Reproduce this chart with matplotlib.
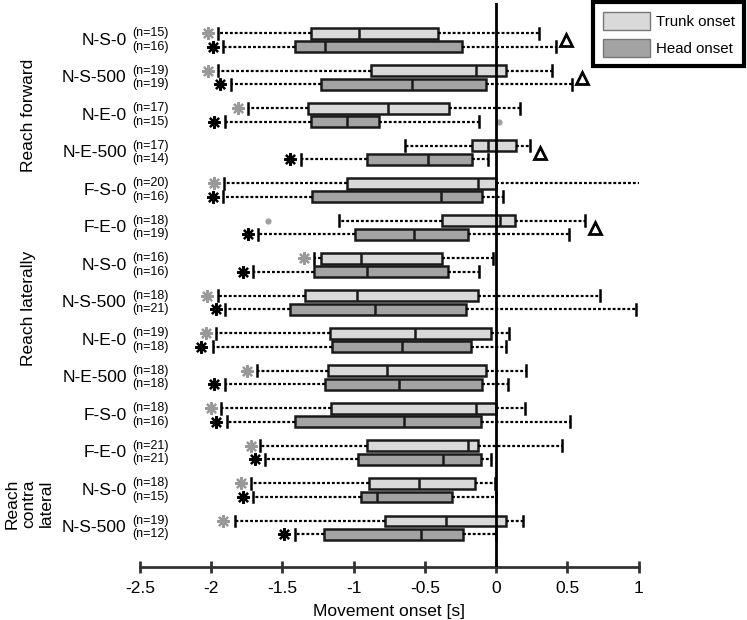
import numpy as np
import matplotlib
matplotlib.use("Agg")
import matplotlib.pyplot as plt
from matplotlib.patches import Patch
from matplotlib.transforms import blended_transform_factory

plt.rcParams['font.family'] = ['Liberation Sans', 'DejaVu Sans']

# conditions, top to bottom
conds = ['N-S-0', 'N-S-500', 'N-E-0', 'N-E-500', 'F-S-0', 'F-E-0',
         'N-S-0', 'N-S-500', 'N-E-0', 'N-E-500', 'F-S-0', 'F-E-0',
         'N-S-0', 'N-S-500']
n_trunk = [15, 19, 17, 17, 20, 18, 16, 18, 19, 18, 18, 21, 18, 19]
n_head = [16, 19, 15, 14, 16, 19, 16, 21, 18, 18, 16, 21, 15, 12]

# trunk onset: whisker low, q1, median, q3, whisker high
trunk_lo = [-1.95, -1.95, -1.74, -0.64, -1.91, -1.10, -1.28, -1.95, -1.97, -1.68, -1.93, -1.66, -1.72, -1.83]
trunk_q1 = [-1.30, -0.88, -1.32, -0.17, -1.05, -0.38, -1.23, -1.34, -1.17, -1.18, -1.16, -0.91, -0.89, -0.78]
trunk_med = [-0.96, -0.14, -0.76, -0.06, -0.13, 0.03, -0.95, -0.98, -0.57, -0.77, -0.14, -0.20, -0.54, -0.35]
trunk_q3 = [-0.41, 0.07, -0.33, 0.14, 0.00, 0.13, -0.38, -0.13, -0.04, -0.07, 0.00, -0.13, -0.15, 0.07]
trunk_hi = [0.30, 0.39, 0.17, 0.24, 1.03, 0.62, -0.02, 0.73, 0.09, 0.21, 0.20, 0.46, -0.01, 0.19]

# head onset
head_lo = [-1.92, -1.86, -1.90, -1.37, -1.92, -1.67, -1.71, -1.90, -1.99, -1.90, -1.89, -1.62, -1.71, -1.41]
head_q1 = [-1.41, -1.23, -1.30, -0.91, -1.29, -0.99, -1.28, -1.45, -1.15, -1.20, -1.41, -0.97, -0.95, -1.21]
head_med = [-1.20, -0.59, -1.05, -0.48, -0.39, -0.58, -0.91, -0.85, -0.66, -0.68, -0.65, -0.37, -0.84, -0.53]
head_q3 = [-0.24, -0.07, -0.82, -0.17, -0.10, -0.20, -0.34, -0.21, -0.18, -0.10, -0.11, -0.11, -0.31, -0.23]
head_hi = [0.42, 0.53, -0.12, -0.06, 0.05, 0.51, -0.12, 0.98, 0.07, 0.08, 0.52, -0.04, 0.00, 0.00]

# significance markers
trunk_star = [-2.02, -2.02, -1.81, np.nan, -1.98, np.nan, -1.35, -2.03, -2.04, -1.75, -2.00, -1.72, -1.79, -1.92]
head_star = [-1.99, -1.94, -1.98, -1.45, -1.99, -1.74, -1.78, -1.97, -2.07, -1.98, -1.97, -1.69, -1.78, -1.49]
tri_cond = [0, 1, 3, 5]
tri_x = [0.49, 0.60, 0.31, 0.69]
dot_cond = [2, 5]
dot_x = [0.02, -1.60]
dot_off = [0.18, -0.18]

groups = ['Reach forward', 'Reach laterally', 'Reach\ncontra\nlateral']
group_y = [2.0, 7.15, 12.35]
group_x = [0.0375, 0.0375, 0.039]

trunk_col = '#d9d9d9'
head_col = '#a3a3a3'

fig = plt.figure(figsize=(7.47, 6.2), dpi=100)
ax = fig.add_axes([140 / 747, 1 - 566.7 / 620, (638.7 - 140) / 747, (566.7 - 3) / 620])

idx = np.arange(len(conds))
off = 0.18
bw = 0.29


def stats(lo, q1, med, q3, hi):
    return [dict(whislo=a, q1=b, med=c, q3=d, whishi=e, fliers=[])
            for a, b, c, d, e in zip(lo, q1, med, q3, hi)]


wprops = dict(color='black', lw=1.6, linestyle=(0, (1.3, 0.9)))
for st, pos, col in [(stats(trunk_lo, trunk_q1, trunk_med, trunk_q3, trunk_hi), idx - off, trunk_col),
                     (stats(head_lo, head_q1, head_med, head_q3, head_hi), idx + off, head_col)]:
    ax.bxp(st, positions=pos, widths=bw, capwidths=bw, orientation='horizontal',
           patch_artist=True, manage_ticks=False, showfliers=False,
           boxprops=dict(facecolor=col, edgecolor='#1a1a1a', lw=1.8),
           medianprops=dict(color='#1a1a1a', lw=1.8),
           whiskerprops=wprops,
           capprops=dict(color='black', lw=1.8))

ax.plot(trunk_star, idx - off, linestyle='none', marker=(8, 2, 0), ms=9, mew=1.6,
        color='#999999', zorder=4)
ax.plot(head_star, idx + off, linestyle='none', marker=(8, 2, 0), ms=9, mew=1.6,
        color='black', zorder=4)
ax.plot(tri_x, tri_cond, linestyle='none', marker='^', ms=8, mfc='white', mec='black',
        mew=2, zorder=4)
ax.plot(dot_x, np.array(dot_cond) + np.array(dot_off), linestyle='none', marker='o',
        ms=3.5, color='#a0a0a0', zorder=4)

ax.axvline(0, color='black', lw=2, zorder=5)

ax.set_xlim(-2.5, 1.0)
ax.set_ylim(14.04, -0.99)
ax.set_yticks([])
ax.set_xticks([-2.5, -2, -1.5, -1, -0.5, 0, 0.5, 1])
ax.set_xticklabels(['-2.5', '-2', '-1.5', '-1', '-0.5', '0', '0.5', '1'], fontsize=12.5)
ax.tick_params(axis='x', direction='inout', length=8, width=2, color='#333333', pad=6)
for s in ['top', 'right', 'left']:
    ax.spines[s].set_visible(False)
ax.spines['bottom'].set_linewidth(2)
ax.spines['bottom'].set_color('#333333')
ax.set_xlabel('Movement onset [s]', fontsize=12.5, labelpad=6)

tr = blended_transform_factory(fig.transFigure, ax.transData)
for i, c in enumerate(conds):
    ax.text(126.7 / 747, i, c, transform=tr, ha='right', va='center', fontsize=12.5)
    ax.text(132.7 / 747, i - off, '(n=%d)' % n_trunk[i], transform=tr, ha='left',
            va='center', fontsize=9)
    ax.text(132.7 / 747, i + off, '(n=%d)' % n_head[i], transform=tr, ha='left',
            va='center', fontsize=9)

for g, gy, gx in zip(groups, group_y, group_x):
    ax.text(gx, gy, g, transform=tr, rotation=90, ha='center', va='center',
            fontsize=12.5, multialignment='center', linespacing=1.15)

handles = [Patch(facecolor=trunk_col, edgecolor='#777777', lw=1),
           Patch(facecolor=head_col, edgecolor='#777777', lw=1)]
leg = fig.legend(handles, ['Trunk onset', 'Head onset'], loc='upper right',
                 bbox_to_anchor=(744.3 / 747, 1 - 2.3 / 620), borderaxespad=0,
                 fontsize=10.8, handlelength=3.1, handleheight=1.45,
                 labelspacing=0.6, handletextpad=0.4, borderpad=0.65,
                 fancybox=False, framealpha=1)
leg.get_frame().set_edgecolor('black')
leg.get_frame().set_linewidth(3)

fig.savefig('out.png', dpi=100)
